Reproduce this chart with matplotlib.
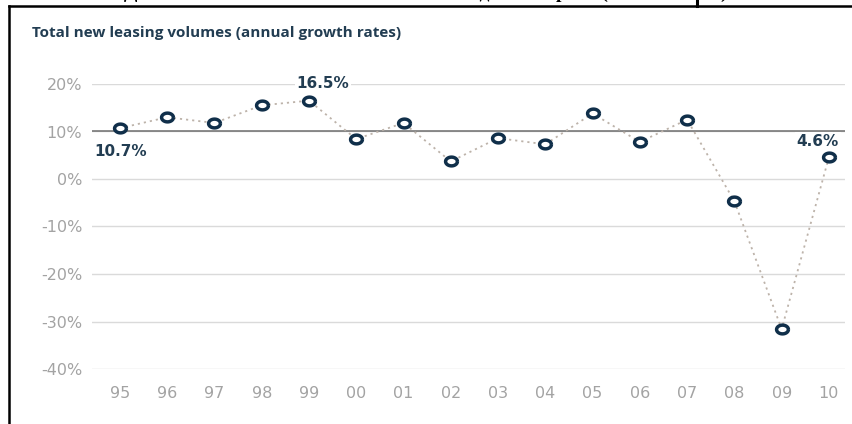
import numpy as np
import matplotlib.pyplot as plt

years = ["95", "96", "97", "98", "99", "00", "01", "02",
         "03", "04", "05", "06", "07", "08", "09", "10"]
growth = [10.7, 13.0, 11.8, 15.5, 16.5, 8.4, 11.8, 3.7,
          8.6, 7.3, 13.8, 7.8, 12.5, -4.7, -31.6, 4.6]
y_ticks = [20, 10, 0, -10, -20, -30, -40]
labelled = {0: "10.7%", 4: "16.5%", 15: "4.6%"}

navy = "#102f4a"
title_col = "#223d52"
grey_txt = "#a3a3a3"

fig = plt.figure(figsize=(8.52, 4.24), dpi=100)
W, H = 852, 424

# cell border of the surrounding table, with the cut-off heading above it
fig.add_artist(plt.Line2D([9 / W, 9 / W], [0, 1 - 6 / H], color="black", lw=1.8))
fig.add_artist(plt.Line2D([9 / W, 1], [1 - 6 / H, 1 - 6 / H], color="black", lw=1.8))
fig.add_artist(plt.Line2D([697 / W, 697 / W], [1 - 6 / H, 1], color="black", lw=2.2))
fig.text(0.5, 1 + 2 / H, "Динамика объёмов нового лизинга по годам в Европе (1995–2010 гг.)",
         ha="center", va="baseline", fontsize=14, fontweight="bold",
         family="Liberation Serif", color="black")

fig.text(32 / W, 1 - 33 / H, "Total new leasing volumes (annual growth rates)",
         ha="left", va="center", fontsize=11, fontweight="bold",
         family="Open Sans", color=title_col)

ax = fig.add_axes([92 / W, 1 - 369 / H, (845 - 92) / W, (369 - 84) / H])
x = np.arange(len(years))
ax.set_xlim(-0.59, 15.34)
ax.set_ylim(-40, 20)

for t in y_ticks:
    ax.axhline(t, color="#dadada", lw=1, zorder=1)
ax.axhline(10, color="#6e6e6e", lw=1.1, zorder=1)

# the source picture is stretched sideways, so the rings are ellipses
th = np.linspace(0, 2 * np.pi, 60)
ring = np.column_stack([1.35 * np.cos(th), np.sin(th)])

ax.plot(x, growth, linestyle=(0, (1.2, 2.2)), color="#bdb3aa", lw=1.3, zorder=2)
ax.plot(x, growth, linestyle="none", marker=ring, markersize=8.5,
        markerfacecolor="white", markeredgecolor=navy, markeredgewidth=2.5,
        zorder=3, clip_on=False)

offsets = {0: (1, -23), 4: (14, 17), 15: (-11, 16)}
for i, txt in labelled.items():
    dx, dy = offsets[i]
    ax.annotate(txt, (x[i], growth[i]), xytext=(dx, dy), textcoords="offset pixels",
                ha="center", va="center", fontsize=11, fontweight="bold",
                family="DejaVu Sans", color=title_col, zorder=4,
                bbox=dict(boxstyle="square,pad=0.1", fc="white", ec="none"))

ax.set_yticks(y_ticks)
ax.set_yticklabels([f"{t}%" for t in y_ticks])
ax.set_xticks(x)
ax.set_xticklabels(years)
ax.tick_params(length=0, labelsize=11.5, labelcolor=grey_txt)
ax.tick_params(axis="y", pad=7)
ax.tick_params(axis="x", pad=12)
for lab in ax.get_xticklabels() + ax.get_yticklabels():
    lab.set_family("DejaVu Sans")
for s in ax.spines.values():
    s.set_visible(False)

fig.savefig("out.png", dpi=100)
